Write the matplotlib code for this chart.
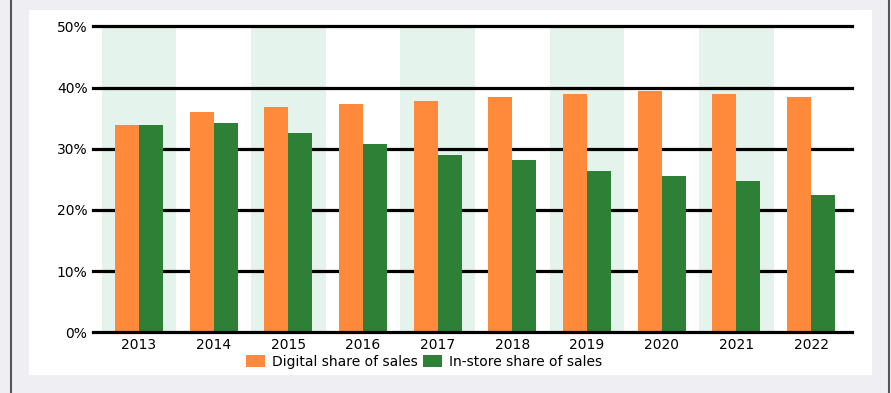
import numpy as np
import matplotlib.pyplot as plt
from matplotlib.patches import Rectangle
from matplotlib.lines import Line2D

years = ["2013", "2014", "2015", "2016", "2017", "2018", "2019", "2020", "2021", "2022"]
digital_share = [33.8, 36.0, 36.8, 37.3, 37.8, 38.5, 39.0, 39.4, 39.0, 38.5]
store_share = [33.8, 34.2, 32.5, 30.7, 28.9, 28.1, 26.3, 25.5, 24.7, 22.4]
y_ticks = [0, 10, 20, 30, 40, 50]
y_tick_labels = ["0%", "10%", "20%", "30%", "40%", "50%"]

ORANGE = "#FF8A3B"
GREEN = "#2E8036"
BAND = "#E4F3EC"

fig = plt.figure(figsize=(8.91, 3.93), dpi=100, facecolor="#EEEEF3")

# white panel and side rules
fig.patches.append(Rectangle((29 / 891, 1 - 375 / 393), (872 - 29) / 891, (375 - 10) / 393,
                             transform=fig.transFigure, facecolor="white", edgecolor="none", zorder=-1))
for xp in (10.5, 888.5):
    fig.lines.append(Line2D([xp / 891, xp / 891], [0, 1], transform=fig.transFigure,
                            color="#555555", linewidth=1.5))

ax = fig.add_axes([93 / 891, 1 - 332.3 / 393, (852 - 93) / 891, (332.3 - 26.3) / 393])
ax.set_facecolor("none")
ax.set_zorder(2)

x = np.arange(len(years))
width = 0.32

# shaded bands behind every other year
for i in x[::2]:
    ax.axvspan(i - 0.5, i + 0.5, color=BAND, linewidth=0, zorder=0)

ax.bar(x - width / 2, digital_share, width, color=ORANGE, label="Digital share of sales", zorder=3)
ax.bar(x + width / 2, store_share, width, color=GREEN, label="In-store share of sales", zorder=3)

for yv in y_ticks[1:]:
    ax.axhline(yv, color="black", linewidth=2.3, zorder=2, clip_on=False)

ax.set_xlim(-0.616, 9.549)
ax.set_ylim(0, 50)
ax.set_xticks(x)
ax.set_xticklabels(years, fontsize=10)
ax.set_yticks(y_ticks)
ax.set_yticklabels(y_tick_labels, fontsize=10)
ax.tick_params(length=0, pad=4)

for side in ("top", "right", "left"):
    ax.spines[side].set_visible(False)
ax.spines["bottom"].set_linewidth(2.3)
ax.spines["bottom"].set_zorder(4)

leg = fig.legend(loc="center left", bbox_to_anchor=(246 / 891, 1 - 362 / 393), ncol=2, frameon=False,
                 fontsize=10, handlelength=1.37, handleheight=1.0, handletextpad=0.5,
                 columnspacing=0.4, borderpad=0, borderaxespad=0)
leg.set_zorder(3)

fig.savefig("out.png", dpi=100, facecolor=fig.get_facecolor())
